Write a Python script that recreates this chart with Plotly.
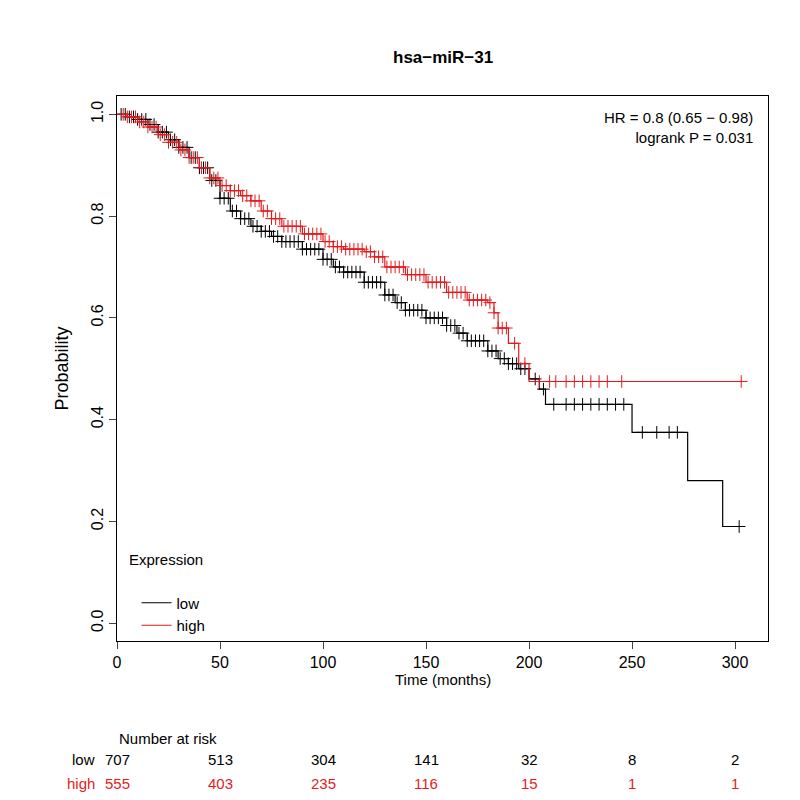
import plotly.graph_objects as go
import numpy as np

low_t = [0, 5, 10, 15, 20, 25, 30, 35, 40, 45, 50, 55, 60, 65, 70, 75, 80, 90, 100, 105, 110, 120, 130, 135, 140, 150, 160, 165, 170, 180, 185, 190, 195, 200, 205, 208, 250, 277, 294, 303]
low_s = [1.0, 0.995, 0.99, 0.98, 0.965, 0.95, 0.935, 0.915, 0.895, 0.87, 0.835, 0.81, 0.795, 0.78, 0.77, 0.76, 0.75, 0.735, 0.715, 0.70, 0.69, 0.67, 0.645, 0.63, 0.615, 0.60, 0.585, 0.57, 0.555, 0.535, 0.52, 0.51, 0.50, 0.48, 0.46, 0.43, 0.375, 0.28, 0.19, 0.19]
high_t = [0, 5, 10, 15, 20, 25, 30, 35, 40, 45, 50, 55, 60, 65, 70, 75, 80, 90, 100, 105, 110, 120, 125, 130, 140, 150, 160, 170, 180, 183, 185, 190, 195, 200, 304]
high_s = [1.0, 0.995, 0.985, 0.975, 0.96, 0.945, 0.93, 0.915, 0.895, 0.875, 0.86, 0.85, 0.84, 0.83, 0.81, 0.795, 0.78, 0.765, 0.75, 0.74, 0.735, 0.73, 0.72, 0.70, 0.685, 0.67, 0.65, 0.635, 0.63, 0.61, 0.58, 0.55, 0.51, 0.475, 0.475]
low_cens = list(range(2, 200, 2)) + [203, 207, 212, 218, 222, 226, 230, 234, 238, 242, 246, 255, 262, 268, 272, 302]
high_cens = list(range(3, 190, 2)) + [193, 198, 205, 210, 213, 218, 222, 226, 230, 234, 238, 245, 303]
risk_times = [0, 50, 100, 150, 200, 250, 300]
risk_low = [707, 513, 304, 141, 32, 8, 2]
risk_high = [555, 403, 235, 116, 15, 1, 1]

def surv_at(ts, ss, t):
    i = np.searchsorted(ts, t, side="right") - 1
    return ss[max(i, 0)]

fig = go.Figure()
for ts, ss, cens, col, name in [(low_t, low_s, low_cens, "black", "low"), (high_t, high_s, high_cens, "#e41a1c", "high")]:
    fig.add_trace(go.Scatter(x=ts, y=ss, mode="lines", line=dict(color=col, width=1.2, shape="hv"), name=name))
    fig.add_trace(go.Scatter(x=cens, y=[surv_at(ts, ss, c) for c in cens], mode="markers",
                             marker=dict(symbol="cross-thin", size=9, line=dict(color=col, width=1)), showlegend=False))

fig.add_annotation(text="<b>hsa−miR−31</b>", x=0.5, y=1.0, xref="paper", yref="paper", yshift=50, showarrow=False, font=dict(size=17))
fig.add_annotation(text="HR = 0.8 (0.65 − 0.98)<br>logrank P = 0.031", x=0.98, y=0.98, xref="paper", yref="paper",
                   xanchor="right", yanchor="top", align="right", showarrow=False, font=dict(size=15))
fig.add_annotation(text="Expression", x=0.015, y=0.13, xref="paper", yref="paper", xanchor="left", showarrow=False, font=dict(size=15))
fig.add_annotation(text="Time (months)", x=0.5, y=-0.09, xref="paper", yref="paper", showarrow=False, font=dict(size=15))
fig.add_annotation(text="Number at risk", x=0, y=-0.198, xref="x", yref="paper", xanchor="left", showarrow=False, font=dict(size=15))
fig.add_annotation(text="low", x=-0.03, y=-0.236, xref="paper", yref="paper", xanchor="right", showarrow=False, font=dict(size=15))
fig.add_annotation(text="high", x=-0.03, y=-0.28, xref="paper", yref="paper", xanchor="right", showarrow=False, font=dict(size=15, color="#e41a1c"))
for t, a, b in zip(risk_times, risk_low, risk_high):
    fig.add_annotation(text=str(a), x=t, y=-0.236, xref="x", yref="paper", showarrow=False, font=dict(size=15))
    fig.add_annotation(text=str(b), x=t, y=-0.28, xref="x", yref="paper", showarrow=False, font=dict(size=15, color="#e41a1c"))

fig.update_layout(width=800, height=800, plot_bgcolor="white", paper_bgcolor="white",
                  margin=dict(l=109, r=40, t=88, b=167), font=dict(family="Liberation Sans, Arial", color="black", size=15),
                  legend=dict(x=0.03, y=0.1, yanchor="top", xanchor="left", bgcolor="rgba(0,0,0,0)", font=dict(size=15)))
fig.update_xaxes(range=[0, 316], tickvals=[0, 50, 100, 150, 200, 250, 300], showgrid=False, showline=True, mirror=True,
                 linecolor="black", ticks="outside", ticklen=7, zeroline=False, tickfont=dict(size=16))
fig.update_yaxes(range=[-0.035, 1.036], tickvals=[0, 0.2, 0.4, 0.6, 0.8, 1.0], ticktext=["0.0", "0.2", "0.4", "0.6", "0.8", "1.0"],
                 tickangle=-90, title=dict(text="Probability", standoff=15), showgrid=False, showline=True, mirror=True,
                 linecolor="black", ticks="outside", ticklen=7, zeroline=False, tickfont=dict(size=16))
fig.write_html("out.html")
